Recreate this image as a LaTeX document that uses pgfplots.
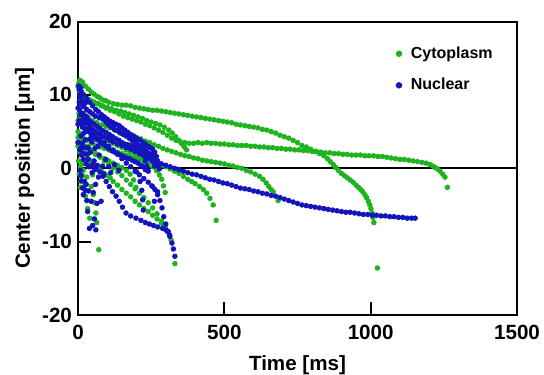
\documentclass[border=0pt]{standalone}
\usepackage{fontspec}
\setmainfont{Liberation Sans}
\usepackage{pgfplots}
\pgfplotsset{compat=1.18}
\usepackage{pgfplotstable}
\definecolor{cyto}{RGB}{30,180,30}
\definecolor{nucl}{RGB}{20,20,190}

\pgfplotstableread{
t y
0 11.2
8 11.6
16 11.7
25 11.2
35 10.8
45 10.4
55 10.1
65 9.8
75 9.6
85 9.3
95 9.2
105 9.0
120 8.8
135 8.7
150 8.6
165 8.6
180 8.5
195 8.3
210 8.2
225 8.1
240 8.0
255 7.9
270 7.9
285 7.8
300 7.7
315 7.6
330 7.5
345 7.4
360 7.3
375 7.2
390 7.1
405 7.0
420 6.9
435 6.8
450 6.7
465 6.6
480 6.5
495 6.4
510 6.3
525 6.2
540 6.0
555 5.9
570 5.8
585 5.7
600 5.6
615 5.5
630 5.3
645 5.2
660 5.0
675 4.8
690 4.5
705 4.3
720 4.1
735 3.8
750 3.5
765 3.1
780 2.9
795 2.6
810 2.3
825 2.0
840 1.7
852 1.3
862 0.9
872 0.5
880 0.1
890 -0.3
900 -0.7
910 -1.0
920 -1.3
930 -1.6
940 -1.9
950 -2.3
958 -2.6
966 -2.9
973 -3.2
980 -3.6
986 -4.0
992 -4.5
997 -5.0
1001 -5.5
1005 -6.1
1008 -6.7
1011 -7.4
1023 -13.6
10 10.0
20 9.8
35 9.4
50 9.1
65 8.8
80 8.5
95 8.2
110 7.9
125 7.7
140 7.4
155 7.1
170 6.9
185 6.7
200 6.5
215 6.3
230 6.0
245 5.8
260 5.5
275 5.2
290 4.9
305 4.5
320 4.1
335 3.8
350 3.6
365 3.5
380 3.4
395 3.4
410 3.5
425 3.4
440 3.5
455 3.4
470 3.4
485 3.3
500 3.3
515 3.2
530 3.2
545 3.1
560 3.1
575 3.1
590 3.0
605 3.0
620 2.9
635 2.9
650 2.8
665 2.8
680 2.7
695 2.7
710 2.6
725 2.6
740 2.5
755 2.5
770 2.4
785 2.4
800 2.3
815 2.3
830 2.2
845 2.1
860 2.1
875 2.0
890 2.0
905 1.9
920 1.9
935 1.8
950 1.8
965 1.8
980 1.7
995 1.7
1010 1.7
1025 1.6
1040 1.6
1055 1.5
1070 1.4
1085 1.3
1100 1.2
1115 1.2
1130 1.1
1145 1.0
1160 0.9
1175 0.8
1190 0.7
1203 0.5
1212 0.3
1220 0.1
1228 -0.1
1237 -0.4
1246 -0.8
1254 -1.2
1262 -2.6
10 10.3
25 9.6
40 9.3
55 9.0
70 8.8
85 8.5
100 8.3
115 8.1
130 7.9
145 7.8
160 7.6
175 7.4
190 7.2
205 7.0
220 6.8
235 6.5
250 6.3
265 6.1
280 5.9
295 5.6
310 5.2
322 4.8
334 4.3
345 3.8
355 3.3
363 2.9
371 2.5
5 8.0
20 7.5
35 6.9
50 6.5
65 6.2
80 5.9
95 5.7
110 5.5
125 5.2
140 5.0
155 4.8
170 4.6
185 4.4
200 4.2
215 4.0
230 3.7
245 3.5
260 3.2
275 3.0
290 2.7
305 2.5
320 2.3
335 2.1
350 1.9
365 1.7
380 1.6
395 1.4
410 1.3
425 1.1
440 1.0
455 0.9
470 0.8
485 0.7
500 0.6
515 0.4
530 0.3
545 0.1
560 0.0
575 -0.3
590 -0.5
605 -0.8
620 -1.1
632 -1.5
643 -2.0
652 -2.5
660 -2.9
667 -3.2
684 -4.4
0 6.5
15 6.0
30 5.6
45 5.1
60 4.7
75 4.3
90 4.0
105 3.7
120 3.4
135 3.1
150 2.8
165 2.5
180 2.2
195 2.0
210 1.7
225 1.4
240 1.1
255 0.9
270 0.6
285 0.4
300 0.2
315 -0.1
330 -0.4
345 -0.7
360 -1.1
375 -1.5
388 -1.8
400 -2.1
415 -2.5
428 -2.9
440 -3.4
451 -4.1
462 -5.0
472 -7.1
0 3.0
10 2.5
20 2.0
30 1.5
40 1.1
50 0.7
60 0.3
70 0.0
80 -0.4
90 -0.7
100 -1.0
110 -1.3
120 -1.8
135 -2.3
150 -2.9
165 -3.4
180 -3.9
195 -4.5
210 -5.0
225 -5.5
240 -5.9
255 -6.4
270 -6.9
285 -7.5
298 -8.1
308 -8.7
318 -9.8
331 -13.0
0 4.2
15 3.6
30 3.0
45 2.5
60 2.0
75 1.5
90 1.0
105 0.5
120 0.0
135 -0.5
150 -1.0
165 -1.6
180 -2.2
195 -2.8
210 -3.4
225 -4.0
240 -4.7
255 -5.4
270 -6.2
285 -7.2
295 -7.9
15 -1.0
20 -2.5
25 -3.8
33 -5.5
40 -6.8
45 -2.5
52 -3.6
57 -4.7
61 -6.1
64 -7.4
71 -11.1
0 5.0
15 4.4
30 3.8
45 3.4
60 3.1
75 2.9
90 2.7
105 2.5
120 2.3
135 2.2
150 2.0
165 1.8
180 1.6
195 1.4
210 1.2
225 0.9
240 0.6
255 0.2
268 -0.3
278 -0.9
286 -1.5
292 -2.4
298 -3.3
0 3.5
15 3.0
30 2.6
45 2.2
60 1.9
75 1.6
90 1.3
105 1.0
120 0.7
135 0.4
150 0.1
165 -0.3
178 -0.8
190 -1.6
198 -2.6
2 11.5
6 12.0
12 11.8
4 10.6
9 9.2
3 7.5
7 6.8
12 6.2
4 4.8
10 4.0
6 2.2
2 1.0
8 0.2
4 -0.8
10 -1.8
14 0.6
18 -0.3
24 1.1
30 -1.2
36 0.4
50 -0.9
8 -2.6
}\cytodata

\pgfplotstableread{
t y
0 8.2
10 7.4
20 6.8
30 6.2
40 5.7
50 5.3
60 5.0
70 4.8
80 4.5
90 4.3
100 4.1
110 3.8
120 3.6
135 3.3
150 3.1
165 2.8
180 2.6
195 2.3
210 2.0
225 1.7
240 1.4
255 1.1
270 0.8
285 0.6
300 0.4
315 0.2
330 0.0
345 -0.2
360 -0.4
375 -0.6
390 -0.8
405 -0.9
420 -1.1
435 -1.3
450 -1.5
465 -1.6
480 -1.8
495 -2.0
510 -2.1
525 -2.3
540 -2.5
555 -2.7
570 -2.8
585 -2.9
600 -3.1
615 -3.2
630 -3.4
645 -3.5
660 -3.7
675 -3.8
690 -4.0
705 -4.2
720 -4.4
735 -4.6
750 -4.8
765 -5.0
780 -5.1
795 -5.2
810 -5.3
825 -5.4
840 -5.5
855 -5.6
870 -5.7
885 -5.8
900 -5.9
915 -6.0
930 -6.0
945 -6.1
960 -6.2
975 -6.3
990 -6.3
1005 -6.4
1020 -6.4
1035 -6.5
1050 -6.5
1065 -6.6
1080 -6.6
1095 -6.7
1110 -6.7
1125 -6.8
1140 -6.8
1152 -6.8
0 3.5
10 2.8
20 2.0
35 1.2
50 0.5
62 0.0
75 -0.5
85 -1.1
96 -1.8
107 -2.5
118 -3.2
130 -3.8
141 -4.5
152 -5.3
164 -6.1
180 -6.5
198 -6.8
215 -7.1
230 -7.4
244 -7.6
258 -7.8
272 -8.0
289 -8.2
300 -8.4
306 -8.6
313 -9.1
321 -10.2
331 -12.0
0 6.0
15 5.6
30 5.2
45 4.8
60 4.4
75 4.0
90 3.5
105 3.0
120 2.5
135 1.9
150 1.3
165 0.7
180 0.2
195 -0.4
210 -0.9
225 -1.4
240 -1.9
252 -2.4
263 -2.9
272 -3.6
280 -4.4
287 -5.4
293 -6.6
300 -7.6
308 -8.6
314 -9.3
326 -11.0
4 10.8
12 10.4
20 10.0
30 9.5
40 9.0
50 8.5
61 8.0
70 7.7
80 7.3
90 7.0
100 6.7
110 6.4
120 6.2
130 6.0
141 5.8
150 5.5
160 5.2
170 4.9
180 4.6
190 4.4
200 4.1
209 3.9
220 3.6
230 3.3
240 3.0
248 2.8
255 2.6
262 2.2
268 1.6
272 1.0
4 9.0
12 8.7
20 8.4
30 8.0
40 7.7
50 7.4
60 7.1
72 6.9
84 6.7
95 6.3
105 5.9
115 5.6
125 5.3
135 5.1
145 4.8
155 4.6
164 4.4
175 4.1
185 3.8
195 3.5
205 3.2
215 3.0
225 2.7
235 2.3
245 2.0
255 1.7
262 1.4
268 1.0
273 0.5
278 -0.1
5 8.0
15 7.5
25 7.1
35 6.6
45 6.3
55 6.0
65 5.7
75 5.4
85 5.1
96 4.9
107 4.6
118 4.3
130 4.0
140 3.8
150 3.5
160 3.3
170 3.2
180 3.1
190 2.9
200 2.6
210 2.3
220 2.1
230 1.8
240 1.6
250 1.3
256 0.9
262 0.3
5 6.5
15 6.0
25 5.4
35 5.0
45 4.6
55 4.2
65 3.9
75 3.6
85 3.3
95 3.0
105 2.7
115 2.4
125 2.2
135 2.0
145 1.8
155 1.6
165 1.4
175 1.3
185 1.1
195 0.9
205 0.7
215 0.4
223 0.2
230 -0.2
100 6.2
120 5.8
140 5.3
160 4.8
178 4.4
190 3.7
200 3.1
212 2.5
223 1.9
230 1.0
235 0.3
240 -0.4
200 -0.5
212 -1.8
218 -3.0
221 -4.3
223 -5.7
255 -2.5
272 -3.2
261 -4.5
10 -1.0
16 -2.7
22 -1.8
25 -3.0
30 -4.4
33 -5.9
39 -8.2
45 -4.5
50 -7.8
52 -3.3
56 -6.9
60 -2.2
61 -8.4
70 -1.2
79 -4.5
88 -0.8
28 -2.2
18 -3.6
36 -3.1
65 -4.8
8 -0.3
12 -1.7
8 2.5
12 1.8
18 1.2
22 2.8
28 0.6
32 1.9
38 0.2
42 2.2
48 -0.6
55 1.0
58 -0.2
66 0.4
72 1.8
84 0.3
95 1.2
105 0.2
112 -0.6
125 0.5
140 -0.3
10 4.4
15 3.4
20 4.8
25 3.9
35 2.8
40 4.0
48 3.6
58 2.7
68 3.0
15 5.9
22 6.4
10 7.3
30 7.0
8 9.8
14 9.2
18 8.6
25 8.9
6 10.0
3 11.2
10 11.0
}\nucldata

\begin{document}
\begin{tikzpicture}
\begin{axis}[
  at={(0,0)}, anchor=south west,
  scale only axis, width=219.5pt, height=146.75pt,
  xmin=0, xmax=1500, ymin=-20, ymax=20,
  xtick={0,500,1000,1500}, ytick={-20,-10,0,10,20},
  tick pos=left, tick align=inside,
  major tick length=6.5pt,
  every tick/.style={black, line width=1pt},
  axis line style={line width=1pt},
  axis on top, clip=false,
  /pgf/number format/assume math mode=true,
  /pgf/number format/1000 sep={},
  ticklabel style={font=\fontsize{10.3}{12}\selectfont\bfseries},
  xticklabel style={yshift=-1.5pt},
  yticklabel style={xshift=0.5pt},
  xlabel={Time [ms]}, ylabel={Center position [μm]},
  every axis x label/.style={at={(axis description cs:0.5,-0.171)}, anchor=center,
    font=\fontsize{10.3}{12}\selectfont\bfseries},
  every axis y label/.style={at={(axis description cs:-0.122,0.5)}, rotate=90, anchor=center,
    font=\fontsize{10.3}{12}\selectfont\bfseries},
  legend style={draw=none, fill=none, at={(axis description cs:0.724,0.93)}, anchor=north west,
    inner sep=0pt, row sep=4.5pt, font=\fontsize{8}{9.6}\selectfont\bfseries,
    /tikz/every odd column/.append style={column sep=2.5pt}},
  legend cell align=left,
  legend image code/.code={\draw[#1, mark size=1.4pt] plot coordinates {(0.1cm,0cm)};},
]
\addplot[only marks, mark=*, color=cyto, mark size=1.15pt, mark options={draw=none}] table {\cytodata};
\addlegendentry{Cytoplasm}
\addplot[only marks, mark=*, color=nucl, mark size=1.15pt, mark options={draw=none}] table {\nucldata};
\addlegendentry{Nuclear}
\addplot[black, line width=0.8pt, forget plot] coordinates {(0,0) (1500,0)};
\end{axis}
\pgfresetboundingbox
\useasboundingbox (-39pt,-29.5pt) rectangle (233pt,157.5pt);
\end{tikzpicture}
\end{document}
